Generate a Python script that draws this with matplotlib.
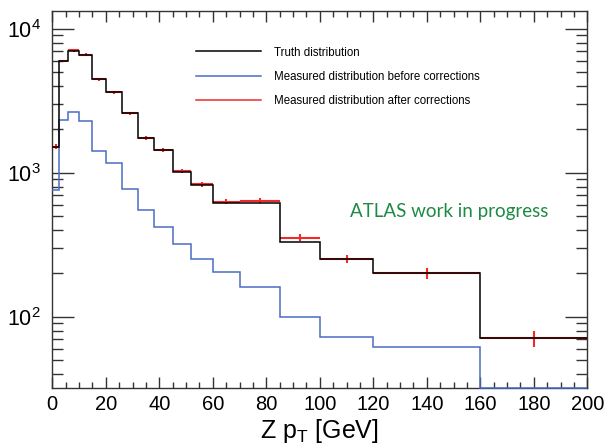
import numpy as np
import matplotlib
matplotlib.use("Agg")
import matplotlib.pyplot as plt
from matplotlib.ticker import LogLocator, MultipleLocator, LogFormatterMathtext, NullFormatter
from matplotlib.lines import Line2D

plt.rcParams['font.family'] = ['Liberation Sans', 'DejaVu Sans']
plt.rcParams['mathtext.fontset'] = 'custom'
plt.rcParams['mathtext.rm'] = 'Liberation Sans'
plt.rcParams['mathtext.it'] = 'Liberation Sans:italic'
plt.rcParams['mathtext.default'] = 'regular'

# ---- data ----
bin_edges = [0, 2.5, 6, 10, 15, 20, 26, 32, 38, 45, 52, 60, 70, 85, 100, 120, 160, 200]
truth = [1520, 6000, 7030, 6590, 4455, 3614, 2585, 1734, 1438, 1016, 822, 619, 613, 332, 251, 200, 71.5]
measured_before = [760, 2323, 2625, 2285, 1415, 1170, 770, 551, 422, 321, 253, 205, 161, 100, 72, 62, 20]
measured_after = [1520, 6000, 7080, 6620, 4455, 3614, 2585, 1750, 1438, 1032, 831, 629, 640, 354, 253, 201, 71]
after_err = [55, 120, 130, 130, 100, 90, 70, 50, 45, 35, 30, 25, 28, 19, 17, 17, 9]

legend_labels = ["Truth distribution",
                 "Measured distribution before corrections",
                 "Measured distribution after corrections"]
xlabel = r"Z p$_{\mathrm{T}}$ [GeV]"
note = "ATLAS work in progress"

ymin, ymax = 32, 13300

W, H = 605, 446
fig = plt.figure(figsize=(W / 100, H / 100), dpi=100)
ax = fig.add_axes([52.3 / W, 1 - 388 / H, (587.3 - 52.3) / W, (388 - 11) / H])

edges = np.array(bin_edges, dtype=float)
centers = 0.5 * (edges[:-1] + edges[1:])
halfw = 0.5 * np.diff(edges)

c_black = 'black'
c_blue = '#4a6cc4'
c_red = '#f02a2a'

ax.stairs(np.clip(measured_before, ymin, None), edges, baseline=None, color=c_blue, lw=1.1,
          zorder=2.7, clip_on=False)
ax.errorbar(centers, measured_after, xerr=halfw, yerr=after_err, fmt='none',
            ecolor=c_red, elinewidth=1.5, capsize=0, zorder=3)
ax.stairs(truth, edges, baseline=None, color=c_black, lw=1.1, zorder=4)

ax.set_yscale('log')
ax.set_xlim(0, 200)
ax.set_ylim(ymin, ymax)

ax.xaxis.set_major_locator(MultipleLocator(20))
ax.xaxis.set_minor_locator(MultipleLocator(5))
ax.yaxis.set_major_locator(LogLocator(base=10, numticks=10))
ax.yaxis.set_minor_locator(LogLocator(base=10, subs=np.arange(2, 10), numticks=20))
ax.yaxis.set_major_formatter(LogFormatterMathtext())
ax.yaxis.set_minor_formatter(NullFormatter())

ax.tick_params(axis='both', which='both', direction='in', top=True, right=True, color='#333333')
ax.tick_params(axis='x', which='major', length=8, width=1, labelsize=14.5, pad=5)
ax.tick_params(axis='x', which='minor', length=4, width=1)
ax.tick_params(axis='y', which='major', length=16, width=1, labelsize=15.5, pad=8)
ax.tick_params(axis='y', which='minor', length=8, width=1)
for s in ax.spines.values():
    s.set_color('#333333')
    s.set_linewidth(1.0)

ax.set_xlabel(xlabel, fontsize=18, labelpad=2)

# legend
handles = [Line2D([], [], color=c_black, lw=1.1),
           Line2D([], [], color=c_blue, lw=1.1),
           Line2D([], [], color=c_red, lw=1.1)]
leg = ax.legend(handles, legend_labels, loc='upper left', frameon=False,
                bbox_to_anchor=(196 / W, 1 - 46.5 / H), bbox_transform=fig.transFigure,
                borderpad=0, borderaxespad=0, fontsize=8.3,
                handlelength=5.6, handletextpad=1.15, labelspacing=1.07)

fig.text(350 / W, 1 - 211.7 / H, note, color='#1e8a45', fontsize=13.5,
         family=['Lato', 'DejaVu Sans'], ha='left', va='center')

fig.savefig('out.png', dpi=100)
